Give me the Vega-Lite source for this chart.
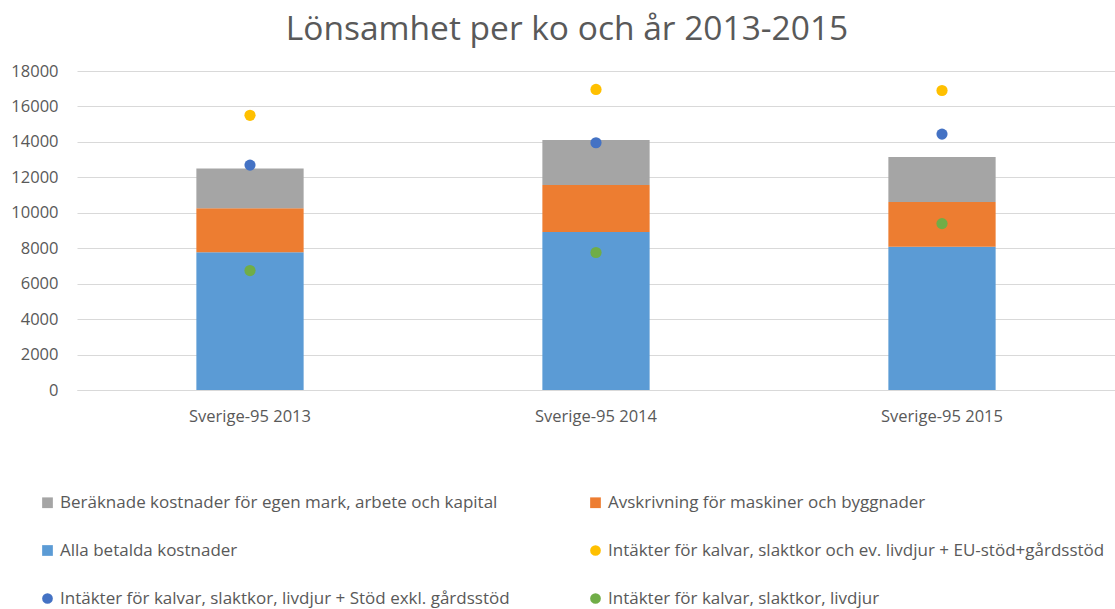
{
  "$schema": "https://vega.github.io/schema/vega-lite/v6.json",
  "width": 1038,
  "height": 319,
  "autosize": {"type": "none"},
  "padding": {"left": 77, "top": 71, "right": 0, "bottom": 219},
  "background": "white",
  "title": {
    "text": "Lönsamhet per ko och år 2013-2015",
    "font": "Open Sans",
    "fontSize": 33.5,
    "fontWeight": "normal",
    "color": "#595959",
    "anchor": "middle",
    "dx": -29,
    "offset": 16
  },
  "data": {
    "values": [
      {"kat": "Sverige-95 2013", "serie": "Alla betalda kostnader", "varde": 7770, "typ": "bar", "ordning": 1},
      {"kat": "Sverige-95 2013", "serie": "Avskrivning för maskiner och byggnader", "varde": 2480, "typ": "bar", "ordning": 2},
      {"kat": "Sverige-95 2013", "serie": "Beräknade kostnader för egen mark, arbete och kapital", "varde": 2250, "typ": "bar", "ordning": 3},
      {"kat": "Sverige-95 2014", "serie": "Alla betalda kostnader", "varde": 8920, "typ": "bar", "ordning": 1},
      {"kat": "Sverige-95 2014", "serie": "Avskrivning för maskiner och byggnader", "varde": 2650, "typ": "bar", "ordning": 2},
      {"kat": "Sverige-95 2014", "serie": "Beräknade kostnader för egen mark, arbete och kapital", "varde": 2530, "typ": "bar", "ordning": 3},
      {"kat": "Sverige-95 2015", "serie": "Alla betalda kostnader", "varde": 8080, "typ": "bar", "ordning": 1},
      {"kat": "Sverige-95 2015", "serie": "Avskrivning för maskiner och byggnader", "varde": 2530, "typ": "bar", "ordning": 2},
      {"kat": "Sverige-95 2015", "serie": "Beräknade kostnader för egen mark, arbete och kapital", "varde": 2540, "typ": "bar", "ordning": 3},
      {"kat": "Sverige-95 2013", "serie": "Intäkter för kalvar, slaktkor och ev. livdjur + EU-stöd+gårdsstöd", "varde": 15500, "typ": "punkt", "ordning": 4},
      {"kat": "Sverige-95 2014", "serie": "Intäkter för kalvar, slaktkor och ev. livdjur + EU-stöd+gårdsstöd", "varde": 16960, "typ": "punkt", "ordning": 4},
      {"kat": "Sverige-95 2015", "serie": "Intäkter för kalvar, slaktkor och ev. livdjur + EU-stöd+gårdsstöd", "varde": 16900, "typ": "punkt", "ordning": 4},
      {"kat": "Sverige-95 2013", "serie": "Intäkter för kalvar, slaktkor, livdjur + Stöd exkl. gårdsstöd", "varde": 12690, "typ": "punkt", "ordning": 5},
      {"kat": "Sverige-95 2014", "serie": "Intäkter för kalvar, slaktkor, livdjur + Stöd exkl. gårdsstöd", "varde": 13950, "typ": "punkt", "ordning": 5},
      {"kat": "Sverige-95 2015", "serie": "Intäkter för kalvar, slaktkor, livdjur + Stöd exkl. gårdsstöd", "varde": 14440, "typ": "punkt", "ordning": 5},
      {"kat": "Sverige-95 2013", "serie": "Intäkter för kalvar, slaktkor, livdjur", "varde": 6740, "typ": "punkt", "ordning": 6},
      {"kat": "Sverige-95 2014", "serie": "Intäkter för kalvar, slaktkor, livdjur", "varde": 7760, "typ": "punkt", "ordning": 6},
      {"kat": "Sverige-95 2015", "serie": "Intäkter för kalvar, slaktkor, livdjur", "varde": 9390, "typ": "punkt", "ordning": 6}
    ]
  },
  "encoding": {
    "x": {
      "field": "kat",
      "type": "nominal",
      "scale": {"paddingInner": 0.69, "paddingOuter": 0.345},
      "axis": {
        "title": null,
        "labelAngle": 0,
        "ticks": false,
        "domain": true,
        "domainColor": "#d9d9d9",
        "labelPadding": 18,
        "grid": false
      }
    },
    "y": {
      "field": "varde",
      "type": "quantitative",
      "scale": {"domain": [0, 18000], "nice": false},
      "axis": {
        "title": null,
        "values": [0, 2000, 4000, 6000, 8000, 10000, 12000, 14000, 16000, 18000],
        "format": "d",
        "domain": false,
        "ticks": false,
        "labelPadding": 19,
        "grid": true,
        "gridColor": "#d9d9d9"
      }
    },
    "color": {
      "field": "serie",
      "type": "nominal",
      "scale": {
        "domain": [
          "Beräknade kostnader för egen mark, arbete och kapital",
          "Avskrivning för maskiner och byggnader",
          "Alla betalda kostnader",
          "Intäkter för kalvar, slaktkor och ev. livdjur + EU-stöd+gårdsstöd",
          "Intäkter för kalvar, slaktkor, livdjur + Stöd exkl. gårdsstöd",
          "Intäkter för kalvar, slaktkor, livdjur"
        ],
        "range": ["#A5A5A5", "#ED7D31", "#5B9BD5", "#FFC000", "#4472C4", "#70AD47"]
      },
      "legend": {
        "title": null,
        "orient": "none",
        "direction": "horizontal",
        "legendX": -38,
        "legendY": 423,
        "columns": 2,
        "gridAlign": "all",
        "columnPadding": 30,
        "rowPadding": 30,
        "labelFont": "Open Sans",
        "labelFontSize": 17,
        "labelColor": "#595959",
        "labelLimit": 700,
        "labelOffset": 4,
        "symbolSize": 115,
        "symbolStrokeWidth": 0
      }
    }
  },
  "layer": [
    {
      "transform": [{"filter": "datum.typ === 'bar'"}],
      "mark": {"type": "bar"},
      "encoding": {
        "order": {"field": "ordning", "type": "quantitative"}
      }
    },
    {
      "transform": [{"filter": "datum.typ === 'punkt'"}],
      "mark": {"type": "point", "filled": true, "opacity": 1, "size": 125},
      "encoding": {
        "shape": {
          "field": "serie",
          "type": "nominal",
          "scale": {
            "domain": [
              "Beräknade kostnader för egen mark, arbete och kapital",
              "Avskrivning för maskiner och byggnader",
              "Alla betalda kostnader",
              "Intäkter för kalvar, slaktkor och ev. livdjur + EU-stöd+gårdsstöd",
              "Intäkter för kalvar, slaktkor, livdjur + Stöd exkl. gårdsstöd",
              "Intäkter för kalvar, slaktkor, livdjur"
            ],
            "range": ["square", "square", "square", "circle", "circle", "circle"]
          },
          "legend": {
            "title": null,
            "orient": "none",
            "direction": "horizontal",
            "legendX": -38,
            "legendY": 423,
            "columns": 2,
            "gridAlign": "all",
            "columnPadding": 30,
            "rowPadding": 30,
            "labelFont": "Open Sans",
            "labelFontSize": 17,
            "labelColor": "#595959",
            "labelLimit": 700,
            "labelOffset": 4,
            "symbolSize": 115,
            "symbolStrokeWidth": 0
          }
        }
      }
    }
  ],
  "config": {
    "view": {"stroke": null},
    "axis": {
      "labelFont": "Open Sans",
      "labelFontSize": 16.5,
      "labelColor": "#595959"
    }
  }
}
